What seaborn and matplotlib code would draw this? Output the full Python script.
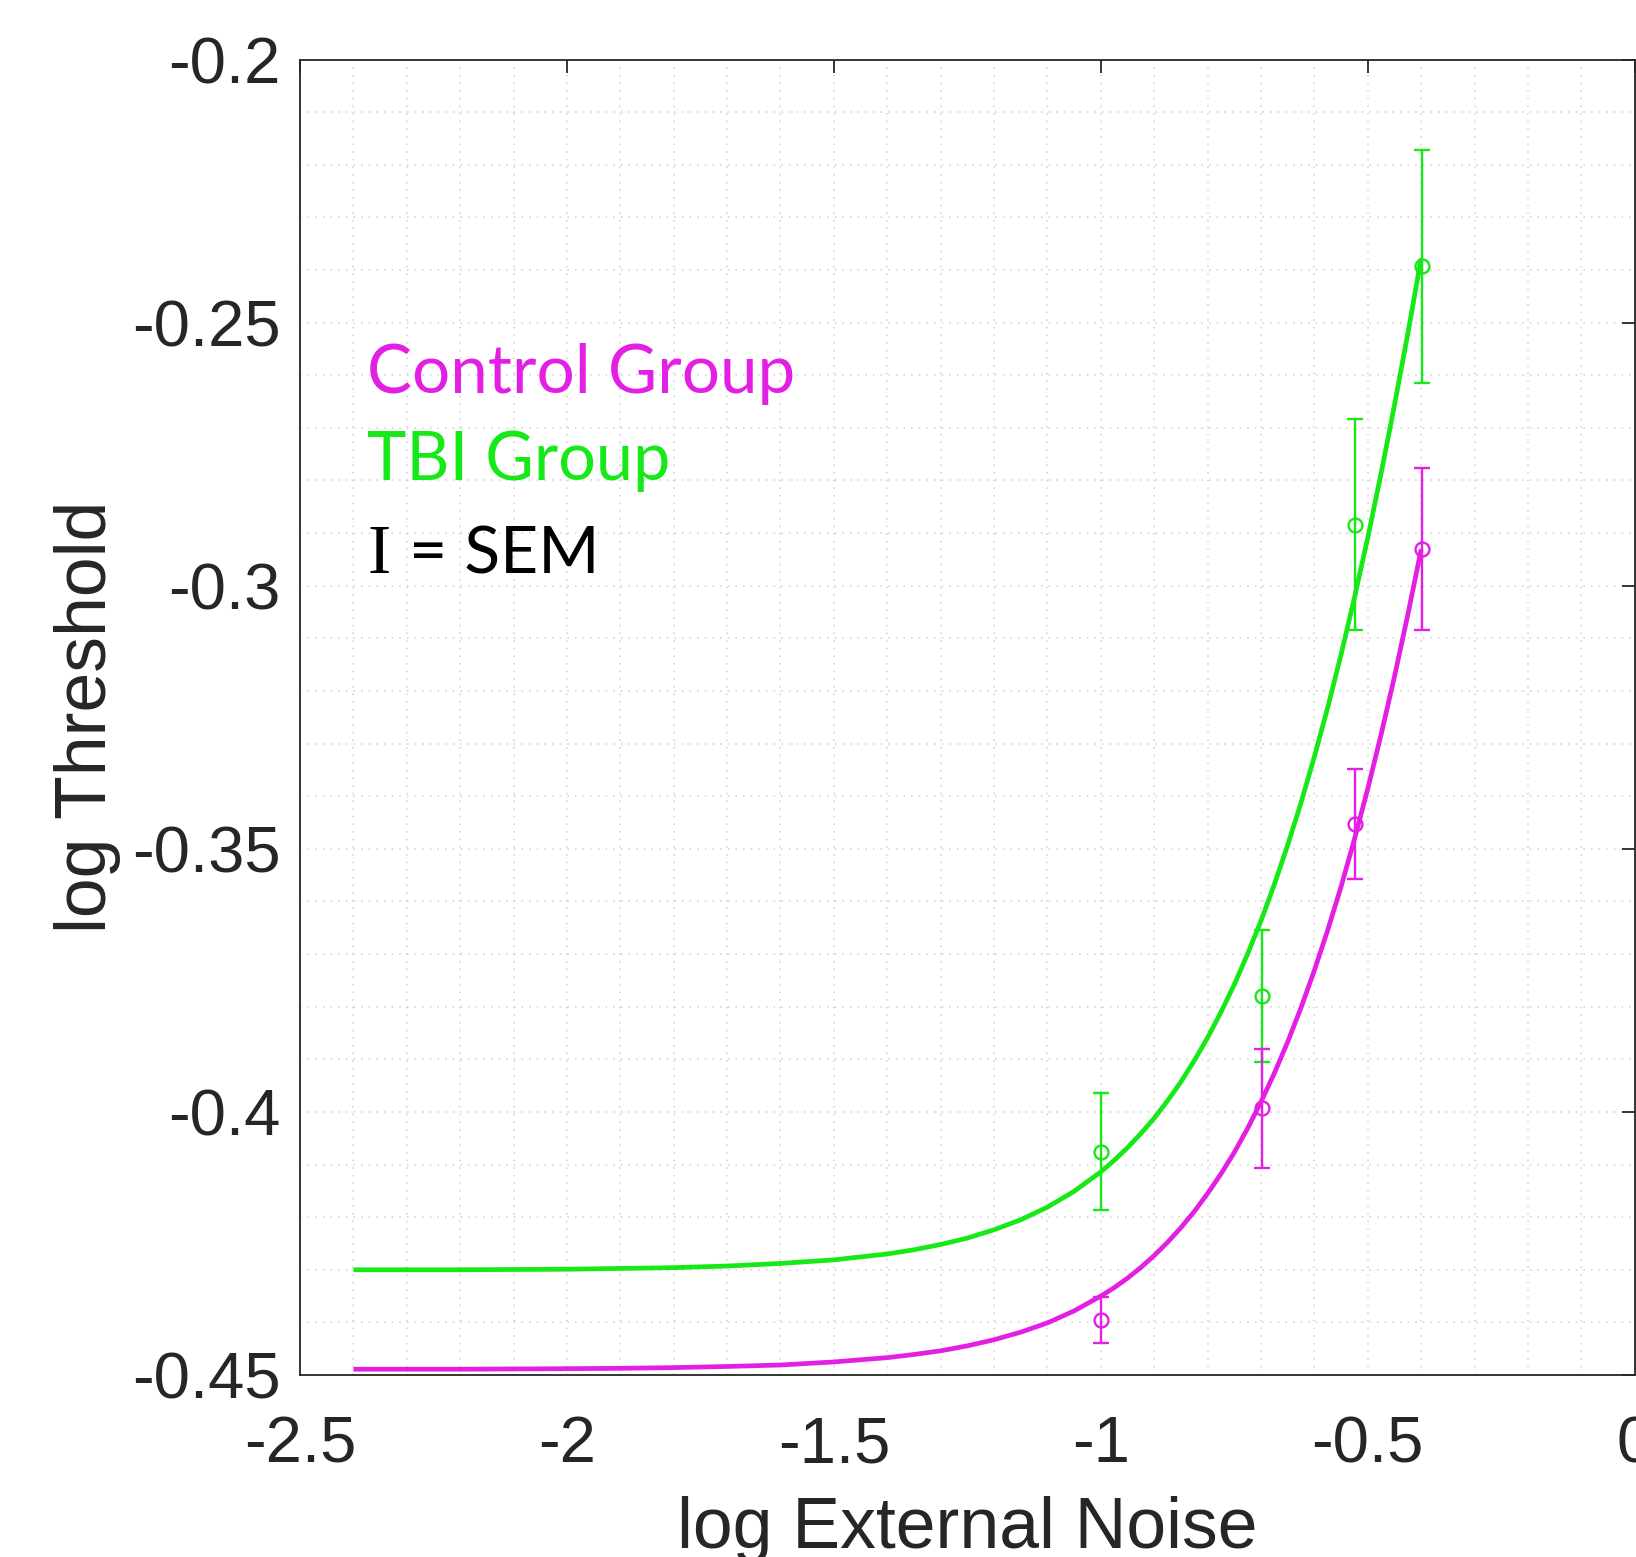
import numpy as np
import pandas as pd
import matplotlib
matplotlib.use("Agg")
import matplotlib.pyplot as plt
from matplotlib.ticker import MultipleLocator
import seaborn as sns

# ---- data ----
noise_x = [-1.0, -0.699, -0.523, -0.398]
ctrl_mean = [-0.4395, -0.3993, -0.3453, -0.2930]
ctrl_sem = [0.0044, 0.0113, 0.0104, 0.0154]
tbi_mean = [-0.4076, -0.3780, -0.2884, -0.2393]
tbi_sem = [0.0111, 0.0126, 0.0200, 0.0221]

fit_x = [-2.4, -2.2, -2.0, -1.9, -1.8, -1.7, -1.6, -1.5, -1.4, -1.35, -1.3,
         -1.25, -1.2, -1.15, -1.1, -1.05, -1.0, -0.975, -0.95, -0.925, -0.9,
         -0.875, -0.85, -0.825, -0.8, -0.775, -0.75, -0.725, -0.7, -0.675,
         -0.65, -0.625, -0.6, -0.575, -0.55, -0.525, -0.5, -0.475, -0.45,
         -0.425, -0.4]
tbi_fit = [-0.4300, -0.4300, -0.4299, -0.42975, -0.4296, -0.42929, -0.4288,
           -0.42812, -0.4270, -0.42620, -0.4252, -0.42398, -0.4224, -0.42050,
           -0.4181, -0.41509, -0.4114, -0.40921, -0.4068, -0.40411, -0.4012,
           -0.39788, -0.3943, -0.39026, -0.3859, -0.38104, -0.3758, -0.36997,
           -0.3637, -0.35678, -0.3493, -0.34125, -0.3325, -0.32316, -0.3131,
           -0.30232, -0.2909, -0.27866, -0.2657, -0.25213, -0.2378]
ctrl_fit = [-0.4489, -0.4489, -0.4488, -0.44873, -0.4486, -0.44838, -0.4481,
            -0.44752, -0.4467, -0.44610, -0.4454, -0.44446, -0.4433, -0.44186,
            -0.4401, -0.43782, -0.4350, -0.43341, -0.4316, -0.42956, -0.4273,
            -0.42478, -0.4220, -0.41894, -0.4155, -0.41179, -0.4077, -0.40312,
            -0.3981, -0.39267, -0.3867, -0.38020, -0.3731, -0.36546, -0.3572,
            -0.34820, -0.3386, -0.32828, -0.3173, -0.30554, -0.2931]

x_ticks = [-2.5, -2, -1.5, -1, -0.5, 0]
x_tick_labels = ["-2.5", "-2", "-1.5", "-1", "-0.5", "0"]
y_ticks = [-0.45, -0.4, -0.35, -0.3, -0.25, -0.2]
y_tick_labels = ["-0.45", "-0.4", "-0.35", "-0.3", "-0.25", "-0.2"]

MAGENTA = "#E41FE4"
GREEN = "#17E817"
DARK = "#262626"

sns.set_style("white")
plt.rcParams["font.family"] = ["Liberation Sans", "DejaVu Sans"]

fig = plt.figure(figsize=(16.36, 15.57), dpi=100)
ax = fig.add_axes([300 / 1636, 1 - 1375 / 1557, 1 - 300 / 1636 - 0.0008, (1375 - 59.5) / 1557])

fit_df = pd.DataFrame({"x": fit_x, "tbi": tbi_fit, "ctrl": ctrl_fit})
sns.lineplot(data=fit_df, x="x", y="tbi", ax=ax, color=GREEN, lw=3.4, estimator=None,
             zorder=3, solid_joinstyle="round", solid_capstyle="butt")
sns.lineplot(data=fit_df, x="x", y="ctrl", ax=ax, color=MAGENTA, lw=3.4, estimator=None,
             zorder=3, solid_joinstyle="round", solid_capstyle="butt")

for mean, sem, col in [(tbi_mean, tbi_sem, GREEN), (ctrl_mean, ctrl_sem, MAGENTA)]:
    ax.errorbar(noise_x, mean, yerr=sem, fmt="o", color=col, mfc="none", mec=col,
                ms=10, mew=1.7, elinewidth=1.7, capsize=6, capthick=1.7, zorder=4)

ax.set_xlim(-2.5, 0)
ax.set_ylim(-0.45, -0.2)
ax.set_xticks(x_ticks)
ax.set_xticklabels(x_tick_labels)
ax.set_yticks(y_ticks)
ax.set_yticklabels(y_tick_labels)
ax.xaxis.set_minor_locator(MultipleLocator(0.1))
ax.yaxis.set_minor_locator(MultipleLocator(0.01))

ax.grid(True, which="both", color="#CFCFCF", linestyle=(0, (1, 4)), linewidth=1.1, zorder=0)
ax.set_axisbelow(True)

for s in ax.spines.values():
    s.set_color(DARK)
    s.set_linewidth(1.3)

ax.tick_params(axis="both", which="major", direction="in", length=9.5, width=1.3,
               colors=DARK, labelsize=47, top=True, right=True)
ax.tick_params(axis="x", which="major", pad=29)
ax.tick_params(axis="y", which="major", pad=14)
ax.tick_params(axis="both", which="minor", length=0, top=True, right=True)

ax.set_xlabel("log External Noise", fontsize=51.5, color=DARK, labelpad=15)
ax.set_ylabel("log Threshold", fontsize=51.5, color=DARK, labelpad=8)

# in-plot legend text
ax.text(367, 1557 - 393, "Control Group", transform=None, color=MAGENTA,
        fontsize=48.5, family=["Lato", "DejaVu Sans"], va="baseline", ha="left")
ax.text(367, 1557 - 480, "TBI Group", transform=None, color=GREEN,
        fontsize=48, family=["Lato", "DejaVu Sans"], va="baseline", ha="left")
ax.text(367, 1557 - 573, "I", transform=None, color="black",
        fontsize=50, family=["Liberation Serif", "DejaVu Serif"], va="baseline", ha="left")
ax.text(409, 1557 - 573, "= SEM", transform=None, color="black",
        fontsize=47.5, family=["Lato", "DejaVu Sans"], va="baseline", ha="left")

fig.savefig("out.png", dpi=100)
